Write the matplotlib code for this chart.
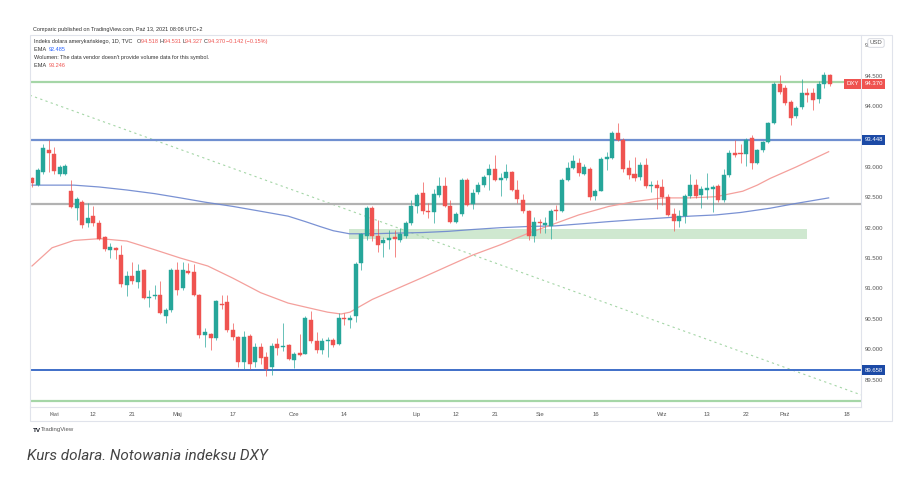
import matplotlib
matplotlib.use('Agg')
import matplotlib.pyplot as plt
from matplotlib.patches import Rectangle
from matplotlib.transforms import blended_transform_factory

# dane świecowe (O, H, L, C), 26.03.2021 - 13.10.2021
opens = [92.81, 92.70, 92.91, 93.27, 93.21, 92.89, 92.89, 92.60, 92.33, 92.43,
         92.07, 92.19, 92.08, 91.84, 91.64, 91.67, 91.55, 91.05, 91.21, 91.11,
         91.30, 90.84, 90.87, 90.89, 90.55, 90.64, 91.30, 91.00, 91.28, 91.27,
         90.89, 90.23, 90.25, 90.19, 90.75, 90.77, 90.31, 90.20, 89.79, 90.22,
         89.79, 90.03, 89.87, 89.70, 90.08, 90.03, 90.07, 89.83, 89.94, 89.93,
         90.48, 90.14, 89.99, 90.14, 90.15, 90.08, 90.52, 90.48, 90.54, 91.42,
         91.86, 92.32, 91.87, 91.74, 91.80, 91.84, 91.80, 91.86, 92.08, 92.35,
         92.57, 92.28, 92.25, 92.54, 92.69, 92.36, 92.10, 92.23, 92.79, 92.39,
         92.58, 92.70, 92.86, 92.97, 92.79, 92.81, 92.91, 92.62, 92.46, 92.27,
         91.86, 92.10, 92.05, 92.03, 92.29, 92.27, 92.79, 92.98, 93.07, 92.89,
         92.96, 92.52, 92.61, 93.13, 93.14, 93.56, 93.45, 92.98, 92.89, 92.84,
         93.03, 92.68, 92.70, 92.67, 92.51, 92.22, 92.11, 92.19, 92.52, 92.70,
         92.53, 92.62, 92.63, 92.68, 92.46, 92.87, 93.23, 93.23, 93.22, 93.47,
         93.06, 93.27, 93.41, 93.72, 94.36, 94.30, 94.07, 93.83, 93.98, 94.22,
         94.21, 94.11, 94.36, 94.518]
highs = [92.84, 92.98, 93.37, 93.45, 93.33, 93.03, 93.05, 92.79, 92.50, 92.46,
         92.41, 92.35, 92.12, 91.87, 91.75, 91.69, 91.72, 91.28, 91.43, 91.41,
         91.32, 90.98, 91.05, 91.12, 90.68, 91.33, 91.43, 91.43, 91.42, 91.40,
         90.91, 90.35, 90.27, 90.81, 90.90, 90.90, 90.43, 90.22, 90.30, 90.25,
         90.11, 90.10, 89.95, 90.11, 90.19, 90.44, 90.09, 89.95, 90.25, 90.55,
         90.63, 90.28, 90.19, 90.20, 90.19, 90.60, 90.60, 90.56, 91.43, 91.92,
         92.35, 92.36, 92.13, 91.85, 91.97, 91.97, 91.99, 92.11, 92.46, 92.57,
         92.75, 92.41, 92.64, 92.84, 92.84, 92.45, 92.26, 92.82, 92.82, 92.64,
         92.75, 92.87, 93.05, 93.20, 92.90, 93.04, 92.94, 92.78, 92.56, 92.29,
         92.17, 92.15, 92.17, 92.30, 92.38, 92.82, 93.08, 93.20, 93.14, 93.05,
         93.00, 92.64, 93.17, 93.25, 93.59, 93.73, 93.47, 93.12, 93.16, 93.08,
         93.14, 92.77, 92.79, 92.80, 92.56, 92.32, 92.29, 92.56, 92.88, 92.80,
         92.69, 92.90, 92.70, 92.72, 92.96, 93.28, 93.44, 93.38, 93.48, 93.53,
         93.29, 93.43, 93.74, 94.39, 94.51, 94.35, 94.10, 94.00, 94.44, 94.30,
         94.30, 94.41, 94.56, 94.531]
lows = [92.67, 92.68, 92.88, 92.92, 92.88, 92.85, 92.87, 92.32, 92.13, 92.00,
        92.01, 92.02, 91.80, 91.62, 91.50, 91.48, 91.03, 90.87, 91.08, 91.01,
        90.82, 90.69, 90.83, 90.58, 90.44, 90.62, 90.90, 90.98, 91.24, 90.87,
        90.19, 90.03, 89.99, 90.16, 90.66, 90.28, 90.15, 89.70, 89.67, 89.67,
        89.70, 89.75, 89.56, 89.58, 89.90, 89.97, 89.82, 89.69, 89.89, 89.92,
        90.11, 89.94, 89.93, 89.87, 90.03, 90.07, 90.40, 90.35, 90.45, 91.31,
        91.80, 91.78, 91.60, 91.52, 91.65, 91.52, 91.77, 91.83, 92.05, 92.24,
        92.23, 92.16, 92.07, 92.51, 92.34, 92.08, 92.07, 92.20, 92.36, 92.30,
        92.55, 92.67, 92.62, 92.76, 92.52, 92.78, 92.60, 92.41, 92.24, 91.80,
        91.77, 91.92, 91.91, 91.82, 92.12, 92.25, 92.77, 92.96, 92.85, 92.86,
        92.45, 92.46, 92.60, 92.95, 93.13, 93.43, 92.92, 92.80, 92.77, 92.79,
        92.66, 92.58, 92.30, 92.38, 92.19, 91.94, 92.01, 92.08, 92.49, 92.49,
        92.33, 92.47, 92.25, 92.43, 92.43, 92.84, 93.17, 93.06, 93.01, 92.97,
        93.04, 93.24, 93.40, 93.70, 94.20, 94.02, 93.69, 93.80, 93.96, 94.07,
        93.93, 94.05, 94.30, 94.327]
closes = [92.73, 92.95, 93.31, 93.23, 92.93, 93.00, 93.02, 92.34, 92.47, 92.05,
          92.16, 92.08, 91.82, 91.65, 91.69, 91.63, 91.08, 91.20, 91.12, 91.28,
          90.84, 90.86, 90.90, 90.60, 90.65, 91.30, 90.97, 91.30, 91.25, 90.89,
          90.23, 90.28, 90.18, 90.79, 90.72, 90.31, 90.20, 89.79, 90.20, 89.75,
          90.03, 89.85, 89.67, 90.05, 90.02, 90.06, 89.84, 89.93, 89.90, 90.51,
          90.14, 89.99, 90.14, 90.16, 90.07, 90.52, 90.49, 90.52, 91.41, 91.89,
          92.32, 91.86, 91.72, 91.79, 91.83, 91.82, 91.89, 92.08, 92.35, 92.54,
          92.27, 92.25, 92.56, 92.69, 92.36, 92.10, 92.23, 92.79, 92.38, 92.57,
          92.71, 92.83, 92.97, 92.78, 92.81, 92.91, 92.62, 92.47, 92.27, 91.86,
          92.09, 92.07, 92.07, 92.28, 92.27, 92.79, 92.98, 93.09, 92.90, 93.00,
          92.50, 92.61, 93.13, 93.16, 93.56, 93.45, 92.96, 92.87, 92.81, 93.03,
          92.68, 92.70, 92.65, 92.50, 92.21, 92.11, 92.20, 92.52, 92.70, 92.52,
          92.64, 92.65, 92.67, 92.46, 92.87, 93.23, 93.20, 93.21, 93.44, 93.06,
          93.27, 93.41, 93.72, 94.36, 94.23, 94.05, 93.80, 93.97, 94.22, 94.19,
          94.10, 94.36, 94.51, 94.370]

# EMA (indeks świecy, wartość)
ema_long_x = [0, 7.5, 12, 17, 22, 26.6, 31, 36, 41, 45.9, 49, 51.6, 54, 56.9, 61, 65, 70, 74.6,
              79, 84, 89, 93.8, 98, 103.4, 108, 113, 118, 122.6, 127, 132.3, 137, 142.8]
ema_long_y = [92.70, 92.70, 92.67, 92.62, 92.56, 92.49, 92.42, 92.35, 92.27, 92.19, 92.10, 92.02,
              91.95, 91.90, 91.90, 91.91, 91.92, 91.94, 91.97, 92.00, 92.02, 92.03, 92.06, 92.10,
              92.13, 92.16, 92.19, 92.21, 92.25, 92.32, 92.40, 92.49]
ema_short_x = [0, 3.6, 7.5, 12.2, 17, 21.9, 26.6, 31.5, 36, 41, 45.9, 50.6, 53, 55.4, 57, 58.3,
               61, 65, 70, 74.6, 79, 84, 89, 93.8, 98, 103.4, 108, 113, 117.8, 122.6, 127.4,
               130, 132.3, 137, 142.8]
ema_short_y = [91.37, 91.67, 91.79, 91.82, 91.78, 91.64, 91.50, 91.37, 91.17, 90.93, 90.76, 90.66,
               90.61, 90.58, 90.61, 90.68, 90.82, 90.98, 91.18, 91.37, 91.55, 91.72, 91.91, 92.07,
               92.21, 92.35, 92.43, 92.49, 92.49, 92.51, 92.60, 92.70, 92.81, 93.00, 93.25]

# etykiety osi czasu (pozycje = numer sesji)
tick_pos = [4, 11, 18, 26, 36, 47, 56, 69, 76, 83, 91, 101, 113, 121, 128, 135, 146]
tick_labels = ['Kwi', '12', '21', 'Maj', '17', 'Cze', '14', 'Lip', '12', '21', 'Sie', '16', 'Wrz', '13', '22', 'Paź', '18']
price_ticks = [89.5, 90.0, 90.5, 91.0, 91.5, 92.0, 92.5, 93.0, 93.5, 94.0, 94.5, 95.0]

# poziomy narysowane na wykresie
level_green_top = 94.40
level_blue_top = 93.448
level_gray = 92.39
level_blue_bottom = 89.658
level_green_bottom = 89.15
zone_x = (56.9, 139.0)
zone_y = (91.81, 91.98)
trend_x = [-0.4, 148.6]
trend_y = [94.18, 89.25]
last_price = 94.370

GREEN = '#26a69a'
RED = '#ef5350'
DARK = '#333333'
W, H = 911, 480

plt.rcParams['font.family'] = ['Liberation Sans', 'DejaVu Sans']


def fx(px):
    return px / W


def fy(py):
    return 1 - py / H


def text_row(fig, x0, y, parts, fs=4.0):
    # kolejne kawałki tekstu w jednej linii, każdy w swoim kolorze
    r = fig.canvas.get_renderer()
    x = x0
    for t, col in parts:
        txt = fig.text(fx(x), fy(y), t, fontsize=fs, color=col, va='center')
        x += txt.get_window_extent(r).width


def main():
    fig = plt.figure(figsize=(W / 100, H / 100), dpi=100)
    fig.patch.set_facecolor('white')

    ax = fig.add_axes([fx(30), fy(407), fx(831), 372 / H])
    ax.set_facecolor('white')

    # ramka całego panelu
    fig.patches.append(Rectangle((fx(30), fy(421)), fx(862), (421 - 35) / H,
                                 transform=fig.transFigure, fill=False,
                                 edgecolor='#e0e3eb', linewidth=0.8))

    # strefa i linie
    ax.add_patch(Rectangle((zone_x[0], zone_y[0]), zone_x[1] - zone_x[0], zone_y[1] - zone_y[0],
                           facecolor='#cfe8d0', edgecolor='none', zorder=1))
    ax.plot(trend_x, trend_y, color='#a5d6a7', linewidth=0.8, linestyle=(0, (2, 3)), zorder=1)
    ax.axhline(level_green_top, color='#a5d6a7', linewidth=1.6, zorder=2)
    ax.axhline(level_green_bottom, color='#a5d6a7', linewidth=1.6, zorder=2)
    ax.axhline(level_gray, color='#b2b2b2', linewidth=1.6, zorder=2)
    ax.axhline(level_blue_top, color='#6f8fd0', linewidth=1.6, zorder=2)
    ax.axhline(level_blue_bottom, color='#3f6fc8', linewidth=1.4, zorder=2)

    ax.plot(ema_long_x, ema_long_y, color='#6c86cf', linewidth=0.9, alpha=0.9, zorder=3)
    ax.plot(ema_short_x, ema_short_y, color='#f4a09c', linewidth=0.9, zorder=3)

    # świece
    for i, (o, h, l, c) in enumerate(zip(opens, highs, lows, closes)):
        col = GREEN if c >= o else RED
        ax.vlines(i, l, h, color=col, linewidth=0.7, alpha=0.7, zorder=4)
        lo, hi = min(o, c), max(o, c)
        ax.add_patch(Rectangle((i - 0.36, lo), 0.72, max(hi - lo, 0.012),
                               facecolor=col, edgecolor=col, linewidth=0.3, zorder=5))

    ax.set_xlim(-0.36, 148.6)
    ax.set_ylim(89.05, 95.17)

    for s in ['top', 'left']:
        ax.spines[s].set_visible(False)
    ax.spines['right'].set_color('#e0e3eb')
    ax.spines['bottom'].set_color('#e0e3eb')
    ax.spines['right'].set_linewidth(0.8)
    ax.spines['bottom'].set_linewidth(0.8)

    ax.yaxis.tick_right()
    ax.set_yticks(price_ticks)
    ax.set_yticklabels(['%.3f' % v for v in price_ticks])
    ax.tick_params(axis='y', length=0, pad=3, labelsize=4.3, labelcolor='#555555')
    ax.set_xticks(tick_pos)
    ax.set_xticklabels(tick_labels)
    ax.tick_params(axis='x', length=0, pad=3.5, labelsize=4.3, labelcolor='#555555')

    # znaczniki cen na osi
    tr = blended_transform_factory(ax.transAxes, ax.transData)
    tag = dict(fontsize=4.3, color='white', va='center', ha='left', zorder=10,
               clip_on=False, transform=tr)
    ax.text(1.004, last_price, '94.370',
            bbox=dict(boxstyle='square,pad=0.4', facecolor=RED, edgecolor='none'), **tag)
    ax.text(0.982, last_price, 'DXY',
            bbox=dict(boxstyle='square,pad=0.4', facecolor=RED, edgecolor='none'), **tag)
    ax.text(1.004, level_blue_top, '93.448',
            bbox=dict(boxstyle='square,pad=0.4', facecolor='#1c4aa6', edgecolor='none'), **tag)
    ax.text(1.004, level_blue_bottom, '89.658',
            bbox=dict(boxstyle='square,pad=0.4', facecolor='#1c4aa6', edgecolor='none'), **tag)
    fig.text(fx(876), fy(43), 'USD', fontsize=4.3, color='#555555', ha='center', va='center',
             bbox=dict(boxstyle='round,pad=0.3', facecolor='white', edgecolor='#d0d3db', linewidth=0.6))

    # nagłówek
    text_row(fig, 33, 29, [('Comparic published on TradingView.com, Paź 13, 2021 08:08 UTC+2', DARK)])
    text_row(fig, 34, 41.7, [('Indeks dolara amerykańskiego, 1D, TVC   ', DARK),
                             ('O', DARK), ('94.518 ', RED), ('H', DARK), ('94.531 ', RED),
                             ('L', DARK), ('94.327 ', RED), ('C', DARK), ('94.370 ', RED),
                             ('\u22120.142 (\u22120.15%)', RED)])
    text_row(fig, 34, 49.3, [('EMA  ', DARK), ('92.485', '#2962ff')])
    text_row(fig, 34, 57.3, [("Wolumen: The data vendor doesn't provide volume data for this symbol.", DARK)])
    text_row(fig, 34, 65.7, [('EMA  ', DARK), ('93.246', RED)])

    # stopka
    fig.text(fx(33), fy(430), 'TV', fontsize=4.5, color='#131722', fontweight='bold', va='center')
    fig.text(fx(41), fy(430), 'TradingView', fontsize=4.3, color='#555555', va='center')
    fig.text(fx(27), fy(456), 'Kurs dolara. Notowania indeksu DXY', fontsize=11,
             family='Roboto', style='italic', color='#444444', va='center')

    fig.savefig('out.png', dpi=100, facecolor='white')


if __name__ == '__main__':
    main()
